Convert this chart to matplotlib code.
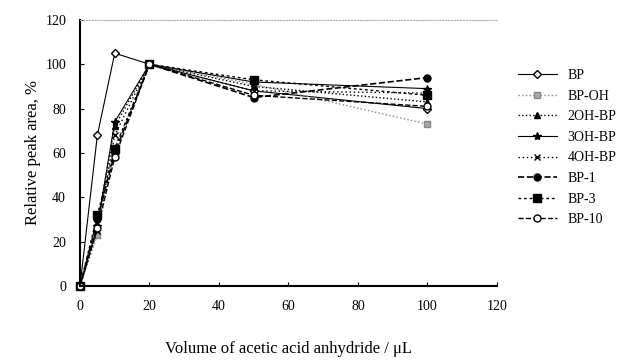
import matplotlib
matplotlib.use("Agg")
import matplotlib.pyplot as plt

plt.rcParams["font.family"] = ["Liberation Serif", "DejaVu Serif"]

volume = [0, 5, 10, 20, 50, 100]
bp = [0, 68, 105, 100, 88, 80]
bp_oh = [0, 23, 62, 100, 91, 73]
oh2_bp = [0, 28, 72, 100, 90, 83]
oh3_bp = [0, 27, 74, 100, 92, 89]
oh4_bp = [0, 25, 68, 100, 88, 87]
bp_1 = [0, 30, 60, 100, 85, 94]
bp_3 = [0, 32, 62, 100, 93, 86]
bp_10 = [0, 26, 58, 100, 86, 81]

series = [
    ("BP", bp, dict(color="black", ls="-", marker="D", mfc="white", ms=4, lw=0.8)),
    ("BP-OH", bp_oh, dict(color="#888888", ls=":", marker="s", mfc="#aaaaaa", ms=5, lw=1.0)),
    ("2OH-BP", oh2_bp, dict(color="black", ls=":", marker="^", ms=5, lw=1.0)),
    ("3OH-BP", oh3_bp, dict(color="black", ls="-", marker="*", ms=6, lw=0.8)),
    ("4OH-BP", oh4_bp, dict(color="black", ls=(0, (1, 2)), marker="x", ms=5, lw=1.0)),
    ("BP-1", bp_1, dict(color="black", ls="--", marker="o", ms=5, lw=1.2)),
    ("BP-3", bp_3, dict(color="black", ls=(0, (2, 2)), marker="s", ms=6, lw=1.0)),
    ("BP-10", bp_10, dict(color="black", ls="--", marker="o", mfc="white", ms=5, lw=1.0)),
]

fig = plt.figure(figsize=(6.25, 3.62), dpi=100)
ax = fig.add_axes([0.128, 0.21, 0.667, 0.735])

for label, values, style in series:
    ax.plot(volume, values, label=label, **style, clip_on=False)

ax.set_xlim(0, 120)
ax.set_ylim(0, 120)
ax.set_xticks(range(0, 121, 20))
ax.set_yticks(range(0, 121, 20))
ax.tick_params(labelsize=10, length=3, direction="in", pad=10)
ax.spines["left"].set_linewidth(1.5)
ax.spines["bottom"].set_linewidth(1.5)
ax.spines["right"].set_visible(False)
ax.spines["top"].set_linestyle(":")
ax.spines["top"].set_color("#aaaaaa")
ax.spines["top"].set_linewidth(0.8)

ax.set_ylabel("Relative peak area, %", fontsize=12, labelpad=3)
ax.set_xlabel("Volume of acetic acid anhydride / μL", fontsize=12, labelpad=20)

ax.legend(loc="center left", bbox_to_anchor=(1.02, 0.52), frameon=False,
          fontsize=10, handlelength=2.8, labelspacing=0.55)

fig.savefig("out.png", dpi=100)
